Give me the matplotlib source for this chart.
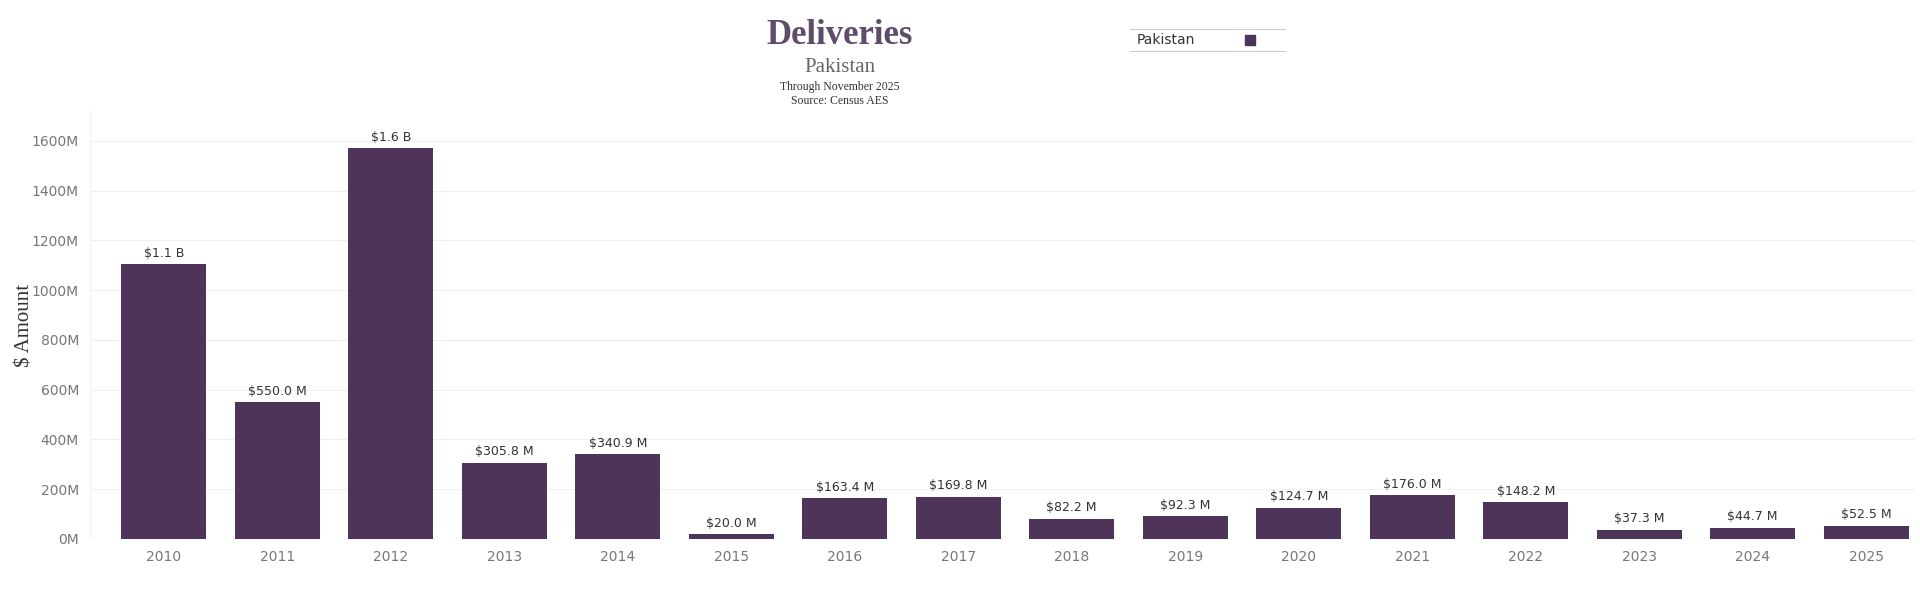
import matplotlib
matplotlib.use("Agg")
import matplotlib.pyplot as plt
import numpy as np

years = [str(y) for y in range(2010, 2026)]
amounts = [1105, 550.0, 1570, 305.8, 340.9, 20.0, 163.4, 169.8, 82.2, 92.3,
           124.7, 176.0, 148.2, 37.3, 44.7, 52.5]
labels = ["$1.1 B", "$550.0 M", "$1.6 B", "$305.8 M", "$340.9 M", "$20.0 M",
          "$163.4 M", "$169.8 M", "$82.2 M", "$92.3 M", "$124.7 M", "$176.0 M",
          "$148.2 M", "$37.3 M", "$44.7 M", "$52.5 M"]
yticks = [0, 200, 400, 600, 800, 1000, 1200, 1400, 1600]

bar_col = "#4f3459"
serif = ["Liberation Serif", "DejaVu Serif"]

fig = plt.figure(figsize=(19.2, 5.89), dpi=100)
ax = fig.add_axes([90/1920, 50/589, 1825/1920, 429/589])

x = np.arange(len(years))
ax.bar(x, amounts, width=0.75, color=bar_col, zorder=2)
for xi, v, lab in zip(x, amounts, labels):
    ax.text(xi, v + 18, lab, ha="center", va="bottom", fontsize=9, color="#333333")

ax.set_xlim(-0.65, 15.43)
ax.set_ylim(0, 1724)
ax.set_xticks(x)
ax.set_xticklabels(years, fontsize=10, color="#777777")
ax.set_yticks(yticks)
ax.set_yticklabels([f"{t}M" for t in yticks], fontsize=10, color="#777777")
ax.tick_params(length=0, pad=8)
ax.grid(axis="y", color="#f0f0f0", linewidth=0.8, zorder=0)
for s in ax.spines.values():
    s.set_visible(False)
ax.axvline(-0.65, color="#f0f0f0", linewidth=0.8)
fig.text(25/1920, 1 - 325/589, "$ Amount", rotation=90, ha="center", va="center",
         fontsize=15, family=serif, color="#333333")

fig.text(840/1920, 1 - 36/589, "Deliveries", ha="center", va="center",
         fontsize=25, fontweight="bold", family=serif, color="#5f4b6b")
fig.text(840/1920, 1 - 67/589, "Pakistan", ha="center", va="center",
         fontsize=15, family=serif, color="#666666")
fig.text(840/1920, 1 - 87/589, "Through November 2025", ha="center", va="center",
         fontsize=8.5, family=serif, color="#333333")
fig.text(840/1920, 1 - 101/589, "Source: Census AES", ha="center", va="center",
         fontsize=8.5, family=serif, color="#333333")

# legend
fig.add_artist(plt.Line2D([1130/1920, 1285/1920], [1 - 29/589] * 2, color="#cccccc", lw=0.8))
fig.add_artist(plt.Line2D([1130/1920, 1285/1920], [1 - 51/589] * 2, color="#cccccc", lw=0.8))
fig.text(1137/1920, 1 - 40/589, "Pakistan", ha="left", va="center", fontsize=10, color="#333333")
fig.add_artist(plt.Rectangle((1245/1920, 1 - 45/589), 10/1920, 10/589, color=bar_col))

fig.savefig("out.png", dpi=100)
